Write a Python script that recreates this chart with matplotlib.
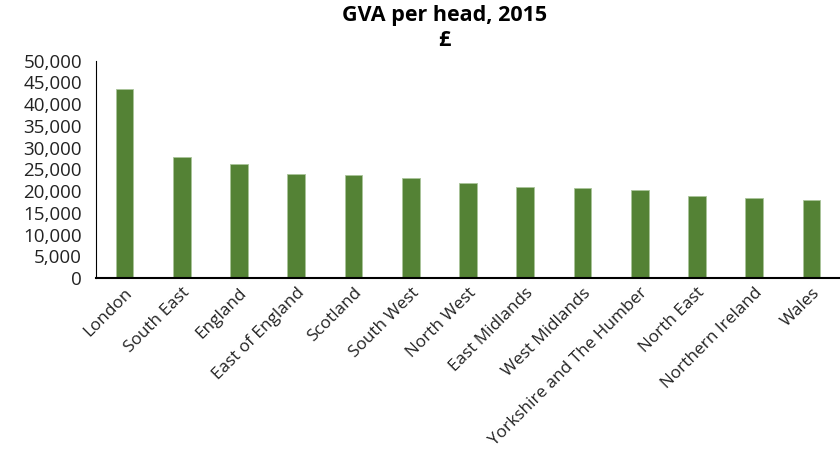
import matplotlib.pyplot as plt
import numpy as np

regions = ["London", "South East", "England", "East of England", "Scotland",
           "South West", "North West", "East Midlands", "West Midlands",
           "Yorkshire and The Humber", "North East", "Northern Ireland", "Wales"]
gva_per_head = [43500, 27750, 26100, 23900, 23600, 22900, 21800, 20900,
                20700, 20300, 18900, 18500, 18000]
y_ticks = np.arange(0, 50001, 5000)

BAR_COLOR = "#548235"

plt.rcParams["font.family"] = ["Open Sans", "DejaVu Sans"]

fig = plt.figure(figsize=(8.4, 4.55), dpi=100)
ax = fig.add_axes([0.1143, 0.389, 0.8857, 0.478])

x = np.arange(len(regions))
ax.bar(x, gva_per_head, width=0.31, color=BAR_COLOR, edgecolor="#a9c49a", linewidth=0.6)

ax.set_xlim(-0.5, len(regions) - 0.5)
ax.set_ylim(0, 50000)
ax.set_yticks(y_ticks)
ax.set_yticklabels([f"{v:,}" for v in y_ticks], fontsize=13.5, color="#222222")
ax.set_xticks(x)
ax.set_xticklabels(regions, rotation=45, ha="right", rotation_mode="anchor",
                   fontsize=12.3, color="#222222")
ax.tick_params(axis="y", length=0, pad=10)
ax.tick_params(axis="x", length=0, pad=5)

for side in ["top", "right"]:
    ax.spines[side].set_visible(False)
ax.spines["left"].set_color("black")
ax.spines["bottom"].set_color("black")
ax.spines["bottom"].set_linewidth(1.5)

fig.text(0.529, 0.965, "GVA per head, 2015", ha="center", va="center",
         fontsize=15.5, fontweight="bold")
fig.text(0.529, 0.91, "£", ha="center", va="center", fontsize=15.5, fontweight="bold")

fig.savefig("out.png", dpi=100)
